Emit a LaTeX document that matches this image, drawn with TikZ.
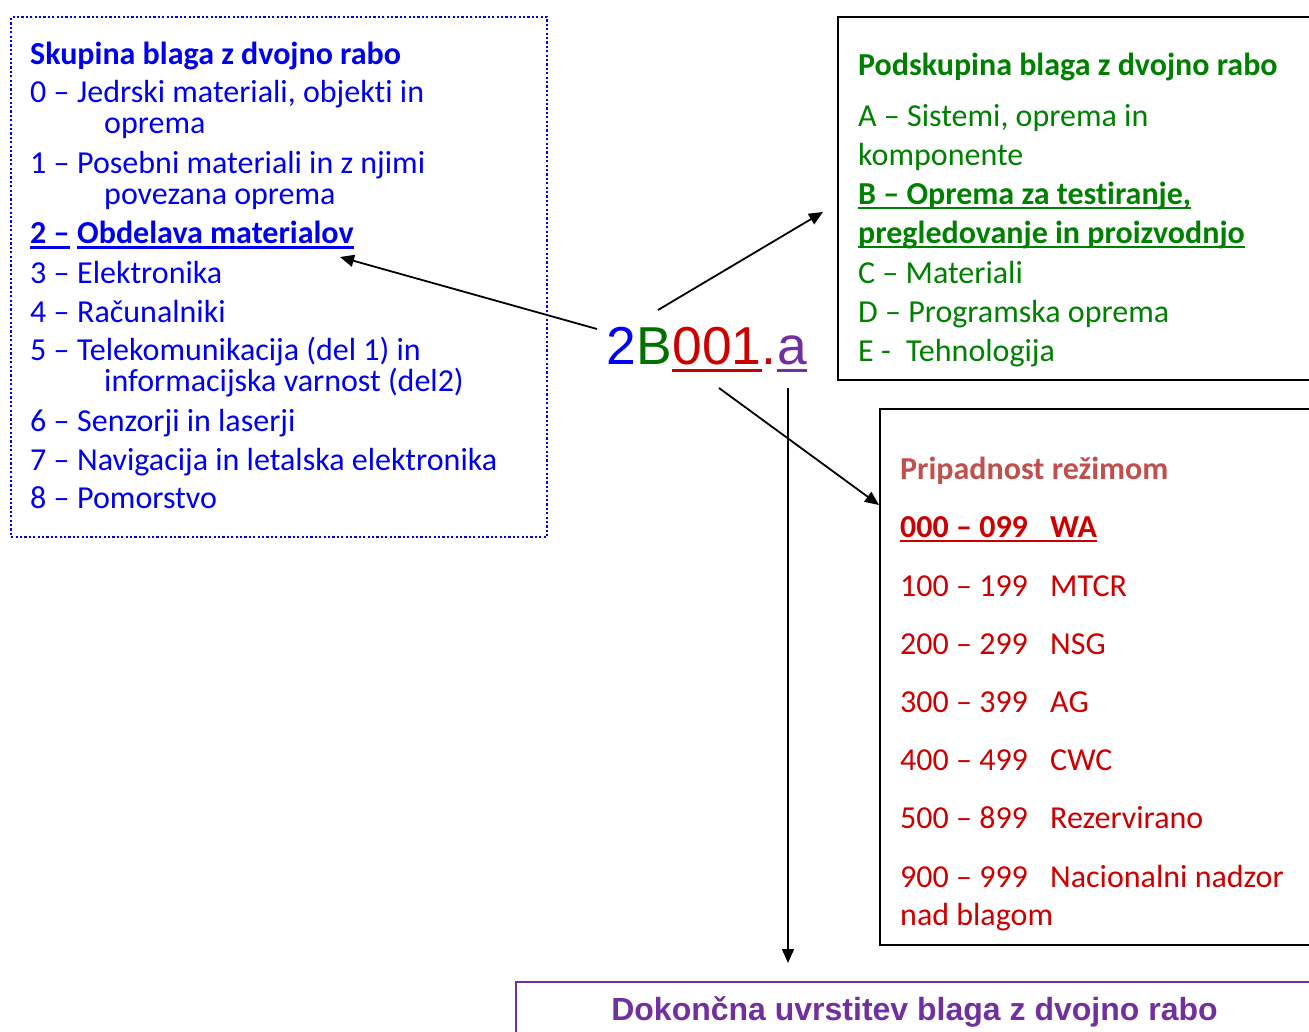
\documentclass[tikz,border=0pt]{standalone}
\usepackage{fontspec}
\setmainfont{Carlito}[Ligatures=NoCommon]
\newfontfamily\arialfont{Liberation Sans}
\usetikzlibrary{arrows.meta,calc}

\definecolor{grpblue}{RGB}{0,0,240}
\definecolor{codeblue}{RGB}{0,0,255}
\definecolor{subgreen}{RGB}{0,128,0}
\definecolor{codegreen}{RGB}{0,112,0}
\definecolor{regred}{RGB}{204,0,0}
\definecolor{regtitle}{RGB}{192,80,77}
\definecolor{finpurple}{RGB}{112,48,160}

\tikzset{
  txt/.style={anchor=base west, inner sep=0pt, font=\fontsize{32}{38}\selectfont},
  boldtxt/.style={anchor=base west, inner sep=0pt, font=\fontsize{32}{38}\selectfont\bfseries},
  frame/.style={draw, line width=2pt, anchor=north west, inner sep=0pt},
  link/.style={line width=1.8pt, -{Triangle[length=14pt,width=12pt]}},
  uline/.style={line width=2.4pt},
  codepart/.style={anchor=base west, inner sep=0pt, font=\arialfont\fontsize{53.4}{60}\selectfont},
}

\begin{document}
\begin{tikzpicture}[x=1pt,y=-1pt]
\useasboundingbox (0,0) rectangle (1309,1031);
\clip (0,0) rectangle (1309,1031);
\fill[white] (0,0) rectangle (1309,1031);

% ---- frames ----
\node[frame, draw=grpblue, line width=2.4pt, dash pattern=on 2.2pt off 2.2pt,
      minimum width=536pt, minimum height=520pt] (grpbox) at (10,16) {};
\node[frame, minimum width=500pt, minimum height=363pt] (subbox) at (837,16) {};
\node[frame, minimum width=460pt, minimum height=536pt] (regbox) at (879,408) {};
\node[frame, draw=finpurple, minimum width=800pt, minimum height=80pt] (finbox) at (515,981) {};

% ---- group list ----
\begin{scope}[grpblue]
\node[boldtxt] (gt) at (30,64) {Skupina blaga z dvojno rabo};
\node[txt] (g0n) at (30,102) {0 –};
\node[txt] (g0t) at (77,102) {Jedrski materiali, objekti in};
\node[txt] (g0c) at (104,133) {oprema};
\node[txt] (g1n) at (30,173) {1 –};
\node[txt] (g1t) at (77,173) {Posebni materiali in z njimi};
\node[txt] (g1c) at (104,204) {povezana oprema};
\node[boldtxt] (g2n) at (30,243) {2 –};
\node[boldtxt] (g2t) at (77,243) {Obdelava materialov};
\node[txt] (g3n) at (30,283) {3 –};
\node[txt] (g3t) at (77,283) {Elektronika};
\node[txt] (g4n) at (30,322) {4 –};
\node[txt] (g4t) at (77,322) {Računalniki};
\node[txt] (g5n) at (30,360) {5 –};
\node[txt] (g5t) at (77,360) {Telekomunikacija (del 1) in};
\node[txt] (g5c) at (104,391) {informacijska varnost (del2)};
\node[txt] (g6n) at (30,431) {6 –};
\node[txt] (g6t) at (77,431) {Senzorji in laserji};
\node[txt] (g7n) at (30,470) {7 –};
\node[txt] (g7t) at (77,470) {Navigacija in letalska elektronika};
\node[txt] (g8n) at (30,508) {8 –};
\node[txt] (g8t) at (77,508) {Pomorstvo};
\draw[uline] ($(g2n.base west)+(0,4.5)$) -- ($(g2n.base east)+(0,4.5)$);
\draw[uline] ($(g2t.base west)+(0,4.5)$) -- ($(g2t.base east)+(0,4.5)$);
\end{scope}

% ---- subgroup list ----
\begin{scope}[subgreen]
\node[boldtxt] (st) at (858,75) {Podskupina blaga z dvojno rabo};
\node[txt] (sa) at (858,126) {A – Sistemi, oprema in};
\node[txt] (sac) at (858,165) {komponente};
\node[boldtxt] (sb) at (858,204) {B – Oprema za testiranje,};
\node[boldtxt] (sbc) at (858,243) {pregledovanje in proizvodnjo};
\node[txt] (sc) at (858,283) {C – Materiali};
\node[txt] (sd) at (858,322) {D – Programska oprema};
\node[txt] (se) at (858,361) {E -};
\node[txt] (set) at (906,361) {Tehnologija};
\draw[uline] ($(sb.base west)+(0,4)$) -- ($(sb.base east)+(0,4)$);
\draw[uline] ($(sbc.base west)+(0,4)$) -- ($(sbc.base east)+(0,4)$);
\end{scope}

% ---- regimes ----
\node[boldtxt, regtitle] (rt) at (900,479) {Pripadnost režimom};
\begin{scope}[regred]
\node[boldtxt] (r0n) at (900,537) {000 – 099};
\node[boldtxt] (r0t) at (1050,537) {WA};
\node[txt] (r1n) at (900,596) {100 – 199};
\node[txt] (r1t) at (1050,596) {MTCR};
\node[txt] (r2n) at (900,654) {200 – 299};
\node[txt] (r2t) at (1050,654) {NSG};
\node[txt] (r3n) at (900,712) {300 – 399};
\node[txt] (r3t) at (1050,712) {AG};
\node[txt] (r4n) at (900,770) {400 – 499};
\node[txt] (r4t) at (1050,770) {CWC};
\node[txt] (r5n) at (900,828) {500 – 899};
\node[txt] (r5t) at (1050,828) {Rezervirano};
\node[txt] (r9n) at (900,887) {900 – 999};
\node[txt] (r9t) at (1050,887) {Nacionalni nadzor};
\node[txt] (r9c) at (900,925) {nad blagom};
\draw[uline] ($(r0n.base west)+(0,4)$) -- ($(r0t.base east)+(0,4)$);
\end{scope}

% ---- final classification ----
\node[anchor=base, inner sep=0pt, text=finpurple,
      font=\arialfont\bfseries\fontsize{32}{38}\selectfont] (fin) at (914.5,1020)
      {Dokončna uvrstitev blaga z dvojno rabo};

% ---- control code ----
\node[codepart, text=codeblue] (c2) at (606,364) {2};
\node[codepart, text=codegreen] (cB) at (c2.base east) {B};
\node[codepart, text=regred] (c001) at (cB.base east) {001};
\node[codepart, text=regred] (cdot) at (c001.base east) {.};
\node[codepart, text=finpurple] (ca) at (cdot.base east) {a};
\draw[regred, line width=3pt] ($(c001.base west)+(0,6)$) -- ($(c001.base east)+(0,6)$);
\draw[finpurple, line width=3pt] ($(ca.base west)+(0,6)$) -- ($(ca.base east)+(0,6)$);

% ---- connectors ----
\coordinate (s1) at (597,329); \coordinate (e1) at (340,257);
\coordinate (s2) at (658,310); \coordinate (e2) at (823,212);
\coordinate (s3) at (719,388); \coordinate (e3) at (879,505);
\coordinate (s4) at (788,388); \coordinate (e4) at (788,963);
\draw[link] (s1) -- (e1);
\draw[link] (s2) -- (e2);
\draw[link] (s3) -- (e3);
\draw[link] (s4) -- (e4);
\end{tikzpicture}
\end{document}
